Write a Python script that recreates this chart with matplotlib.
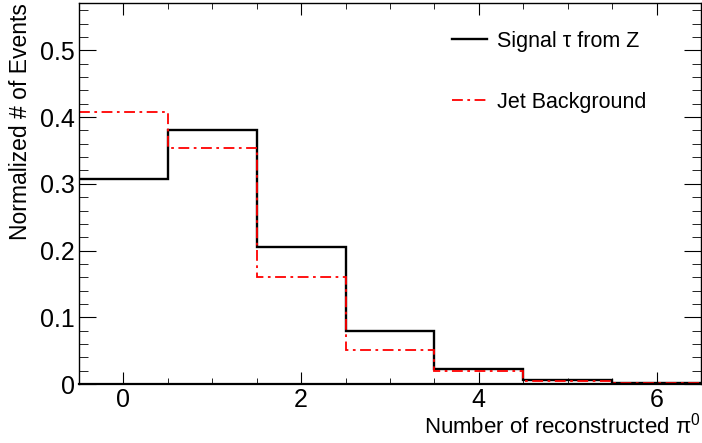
import numpy as np
import matplotlib.pyplot as plt
from matplotlib.ticker import MultipleLocator

plt.rcParams['font.family'] = ['Liberation Sans', 'DejaVu Sans']
plt.rcParams['mathtext.fontset'] = 'custom'
plt.rcParams['mathtext.rm'] = 'Liberation Sans'
plt.rcParams['mathtext.it'] = 'Liberation Sans'

# bin edges: number of reconstructed pi0, 0..6
edges = np.arange(-0.5, 7.0, 1.0)
signal = [0.307, 0.381, 0.205, 0.0795, 0.0225, 0.006, 0.0015]
jet_bkg = [0.408, 0.354, 0.160, 0.051, 0.0195, 0.0045, 0.001]

fig = plt.figure(figsize=(7.02, 4.43), dpi=100)
ax = fig.add_axes([79/702, 59/443, 622/702, 381/443])

ax.stairs(signal, edges, baseline=None, color='black', lw=1.7, label='Signal τ from Z')
ax.stairs(jet_bkg, edges, baseline=None, color='red', lw=1.3,
          linestyle=(0, (6, 2.5, 1.5, 2.5)), label='Jet Background')

ax.set_xlim(-0.5, 6.5)
ax.set_ylim(0, 0.571)

ax.xaxis.set_major_locator(MultipleLocator(2))
ax.xaxis.set_minor_locator(MultipleLocator(0.5))
ax.yaxis.set_major_locator(MultipleLocator(0.1))
ax.yaxis.set_minor_locator(MultipleLocator(0.02))
ax.yaxis.set_major_formatter(plt.FuncFormatter(lambda v, p: '0' if abs(v) < 1e-9 else '%.1f' % v))

ax.tick_params(which='both', direction='in', top=True, right=True, labelsize=18)
ax.tick_params(axis='y', which='major', length=12.5, pad=3)
ax.tick_params(axis='y', which='minor', length=6.5)
ax.tick_params(axis='x', which='major', length=8.5, pad=3)
ax.tick_params(axis='x', which='minor', length=4.5)
for s in ax.spines.values():
    s.set_linewidth(1.0)
ax.spines['bottom'].set_linewidth(1.6)

ax.set_xlabel('Number of reconstructed π$^{0}$', fontsize=16, loc='right', labelpad=0)
ax.set_ylabel('Normalized # of Events', fontsize=16.5, loc='top', labelpad=6)

ax.legend(loc='upper left', bbox_to_anchor=(0.568, 0.978), frameon=False, fontsize=15.5,
          handlelength=1.65, handletextpad=0.45, labelspacing=1.85)

fig.savefig('out.png', dpi=100)
